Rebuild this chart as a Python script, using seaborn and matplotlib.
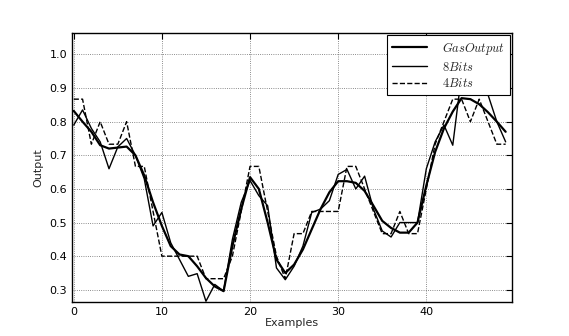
import numpy as np
import pandas as pd
import matplotlib
matplotlib.use("Agg")
import matplotlib.pyplot as plt
import seaborn as sns

# values
examples = list(range(50))
gas_output = [0.832, 0.80, 0.77, 0.73, 0.72, 0.723, 0.726, 0.70, 0.64, 0.56,
              0.49, 0.43, 0.405, 0.40, 0.37, 0.335, 0.31, 0.296, 0.43, 0.54,
              0.635, 0.60, 0.50, 0.39, 0.35, 0.375, 0.42, 0.48, 0.54, 0.59,
              0.623, 0.623, 0.618, 0.594, 0.55, 0.505, 0.484, 0.47, 0.47, 0.50,
              0.61, 0.71, 0.78, 0.83, 0.87, 0.867, 0.852, 0.828, 0.80, 0.77]
bits8 = [0.79, 0.835, 0.78, 0.74, 0.66, 0.725, 0.75, 0.70, 0.63, 0.49,
         0.53, 0.44, 0.39, 0.34, 0.348, 0.266, 0.316, 0.296, 0.45, 0.56,
         0.625, 0.58, 0.55, 0.365, 0.33, 0.37, 0.43, 0.53, 0.54, 0.565,
         0.643, 0.658, 0.60, 0.638, 0.54, 0.475, 0.457, 0.50, 0.50, 0.50,
         0.66, 0.74, 0.79, 0.73, 0.94, 0.96, 0.97, 0.88, 0.80, 0.74]
bits4 = [0.867, 0.867, 0.733, 0.8, 0.733, 0.733, 0.8, 0.667, 0.667, 0.533,
         0.4, 0.4, 0.4, 0.4, 0.4, 0.333, 0.333, 0.333, 0.4, 0.533,
         0.667, 0.667, 0.533, 0.4, 0.333, 0.467, 0.467, 0.533, 0.533, 0.533,
         0.533, 0.667, 0.667, 0.6, 0.533, 0.467, 0.467, 0.533, 0.467, 0.467,
         0.6, 0.733, 0.8, 0.867, 0.867, 0.8, 0.867, 0.8, 0.733, 0.733]

df = pd.DataFrame({"example": examples, "gas": gas_output, "b8": bits8, "b4": bits4})

sns.set_style("white")
plt.rcParams["font.family"] = ["DejaVu Sans"]
plt.rcParams["mathtext.fontset"] = "cm"
plt.rcParams["xtick.direction"] = "in"
plt.rcParams["ytick.direction"] = "in"

fig = plt.figure(figsize=(5.69, 3.36), dpi=100)
ax = fig.add_axes([0.1265, 0.101, 0.773, 0.801])

sns.lineplot(data=df, x="example", y="gas", color="black", linewidth=1.6, label="$GasOutput$", ax=ax)
sns.lineplot(data=df, x="example", y="b8", color="black", linewidth=1.0, label="$8Bits$", ax=ax)
sns.lineplot(data=df, x="example", y="b4", color="black", linewidth=1.0, linestyle="--", label="$4Bits$", ax=ax)

ax.set_xlim(-0.2, 49.7)
ax.set_ylim(0.2635, 1.064)
ax.set_xticks([0, 10, 20, 30, 40])
ax.set_yticks([0.3, 0.4, 0.5, 0.6, 0.7, 0.8, 0.9, 1.0])
ax.tick_params(axis="both", labelsize=8, direction="in", top=True, right=True,
               length=4, width=0.8, colors="black")
ax.grid(True, color="black", linestyle=":", linewidth=0.6, alpha=0.6)
for s in ax.spines.values():
    s.set_color("black")
    s.set_linewidth(1.0)

ax.set_xlabel("Examples", fontsize=8, labelpad=1)
ax.set_ylabel("Output", fontsize=8, labelpad=4)

leg = ax.legend(loc="upper right", fontsize=9, frameon=True, fancybox=False,
                edgecolor="black", framealpha=1, borderaxespad=0.15,
                handlelength=2.8, handletextpad=1.2, labelspacing=0.3)
leg.get_frame().set_linewidth(0.8)

fig.savefig("out.png", dpi=100)
